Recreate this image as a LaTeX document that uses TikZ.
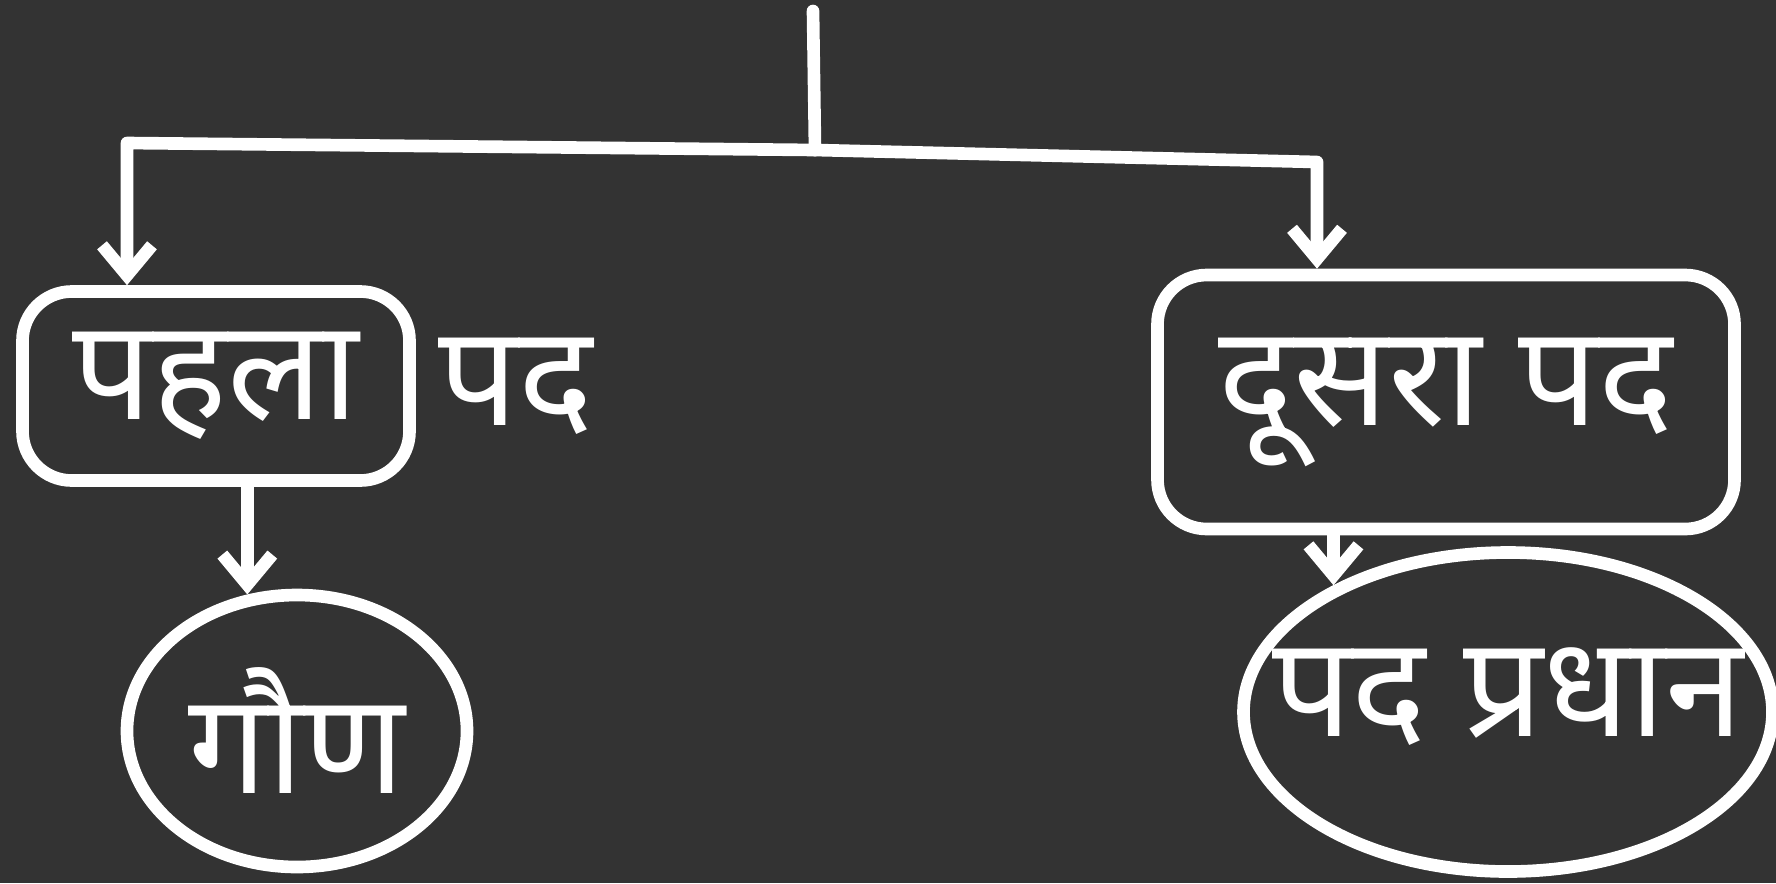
\documentclass[tikz,border=0pt]{standalone}
\usepackage{fontspec}
\newfontfamily\hindi[Script=Devanagari]{Noto Sans}
\usetikzlibrary{positioning,shapes.geometric,arrows.meta}
\definecolor{board}{RGB}{51,51,51}

\begin{document}
\begin{tikzpicture}[line width=3.6pt, white, line cap=round, line join=round,
    conn/.style={-{Straight Barb[length=3mm,width=5mm]}},
    lbl/.style={font=\hindi\fontsize{40}{48}\selectfont},
    box/.style={draw, rounded corners=14pt, lbl},
    oval/.style={draw, ellipse, inner sep=0pt}]
    \fill[board] (0,0) rectangle (17.76,-8.83);
    \useasboundingbox (0,0) rectangle (17.76,-8.83);
    \node[box, minimum width=3.87cm, minimum height=1.89cm] (first) at (2.16,-3.86) {पहला};
    \node[lbl, right=0.05cm of first] (pad) {पद};
    \node[box, minimum width=5.77cm, minimum height=2.54cm] (second) at (14.46,-4.02) {दूसरा पद};
    \node[oval, minimum width=3.4cm, minimum height=2.72cm, label={[lbl]center:गौण}] (gaun) at (2.97,-7.31) {};
    \node[oval, minimum width=5.29cm, minimum height=3.19cm, label={[lbl,yshift=1.5mm]center:पद प्रधान}] (pradhan) at (15.08,-7.12) {};
    \coordinate (top) at (8.13,-0.11);
    \coordinate (mid) at (8.15,-1.5);
    \coordinate (lc) at (1.27,-1.43);
    \coordinate (rc) at (13.17,-1.62);
    \draw (top) -- (mid);
    \draw[conn] (mid) -- (lc) -- (first.north -| lc);
    \draw[conn] (mid) -- (rc) -- (second.north -| rc);
    \draw[conn] (first.south -| gaun.110) -- (gaun.110);
    \draw[conn] (second.south -| pradhan.144) -- (pradhan.144);
\end{tikzpicture}
\end{document}
